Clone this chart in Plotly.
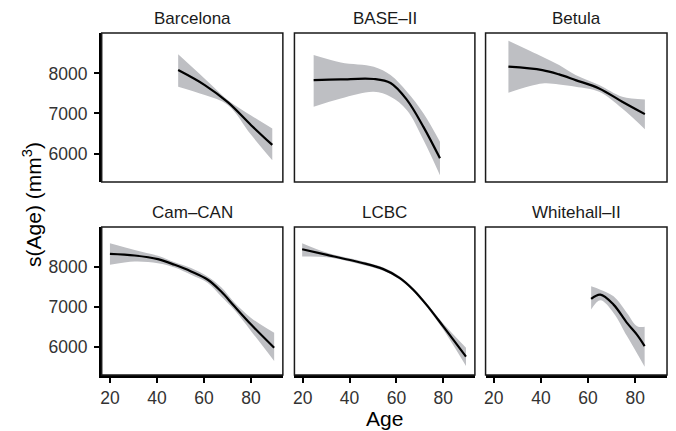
import plotly.graph_objects as go

# ---- data ----
cohorts = ["Barcelona", "BASE–II", "Betula", "Cam–CAN", "LCBC", "Whitehall–II"]

barcelona_age = [49, 60.3, 70.2, 80, 89]
barcelona_fit = [8083, 7708, 7275, 6708, 6215]
barcelona_hi = [8475, 7867, 7333, 6950, 6625]
barcelona_lo = [7667, 7458, 7208, 6467, 5833]

base_age = [24.7, 36.3, 50.4, 57.5, 64.5, 71.6, 78.6]
base_fit = [7830, 7850, 7860, 7760, 7340, 6660, 5880]
base_hi = [8458, 8275, 8167, 7958, 7542, 7000, 6292]
base_lo = [7167, 7375, 7542, 7417, 7083, 6333, 5458]

betula_age = [26.2, 40.6, 47.7, 54.7, 64.7, 74.5, 84.1]
betula_fit = [8167, 8083, 7975, 7833, 7625, 7292, 6983]
betula_hi = [8817, 8417, 8208, 7958, 7708, 7417, 7350]
betula_lo = [7517, 7750, 7725, 7667, 7542, 7125, 6608]

camcan_age = [20, 30.5, 40.4, 47.5, 54.5, 61.6, 67.2, 72.9, 80, 89.8]
camcan_fit = [8333, 8292, 8200, 8058, 7892, 7683, 7392, 7017, 6558, 5975]
camcan_hi = [8600, 8433, 8283, 8120, 7975, 7760, 7500, 7110, 6725, 6350]
camcan_lo = [8058, 8142, 8100, 7990, 7808, 7600, 7267, 6920, 6392, 5642]

lcbc_age = [19.8, 30.4, 44.6, 54.4, 61.5, 67.2, 72.8, 79.9, 89.7]
lcbc_fit = [8450, 8308, 8117, 7950, 7725, 7433, 7058, 6517, 5750]
lcbc_hi = [8600, 8360, 8160, 7990, 7765, 7475, 7105, 6590, 5975]
lcbc_lo = [8267, 8250, 8075, 7910, 7685, 7390, 7010, 6440, 5517]

whitehall_age = [61.3, 65.2, 70.8, 76.5, 80.8, 84]
whitehall_fit = [7200, 7308, 7058, 6600, 6300, 6017]
whitehall_hi = [7517, 7433, 7267, 6850, 6517, 6500]
whitehall_lo = [6933, 7167, 6850, 6267, 5833, 5500]

x_ticks = [20, 40, 60, 80]
y_ticks = [6000, 7000, 8000]

series = [
    (barcelona_age, barcelona_fit, barcelona_hi, barcelona_lo),
    (base_age, base_fit, base_hi, base_lo),
    (betula_age, betula_fit, betula_hi, betula_lo),
    (camcan_age, camcan_fit, camcan_hi, camcan_lo),
    (lcbc_age, lcbc_fit, lcbc_hi, lcbc_lo),
    (whitehall_age, whitehall_fit, whitehall_hi, whitehall_lo),
]

# ---- layout geometry ----
W, H = 676, 431
col_px = [(100, 281.7), (293.3, 474.3), (485, 667)]
row_px = [(33, 182), (227, 375)]
x_range = [16.5, 93.5]
y_range = [5290, 9008]

FONT = "Liberation Sans, Arial, Helvetica, sans-serif"
ribbon_col = "rgb(190,191,195)"
SM = 1.0

fig = go.Figure()
layout = dict(
    width=W, height=H, margin=dict(l=0, r=0, t=0, b=0),
    paper_bgcolor="white", plot_bgcolor="white", showlegend=False,
    font=dict(family=FONT, color="#1a1a1a"),
)
shapes = []
annotations = []

for i, (name, (age, fit, hi, lo)) in enumerate(zip(cohorts, series)):
    r, c = divmod(i, 3)
    n = i + 1
    xa = "x" if n == 1 else f"x{n}"
    ya = "y" if n == 1 else f"y{n}"
    xkey = "xaxis" if n == 1 else f"xaxis{n}"
    ykey = "yaxis" if n == 1 else f"yaxis{n}"
    x0, x1 = col_px[c]
    y0, y1 = row_px[r]
    xdom = [x0 / W, x1 / W]
    ydom = [1 - y1 / H, 1 - y0 / H]

    fig.add_trace(go.Scatter(
        x=age, y=lo, mode="lines",
        line=dict(width=0, color=ribbon_col, shape="spline", smoothing=SM),
        hoverinfo="skip", xaxis=xa, yaxis=ya))
    fig.add_trace(go.Scatter(
        x=age, y=hi, mode="lines", fill="tonexty", fillcolor=ribbon_col,
        line=dict(width=0, color=ribbon_col, shape="spline", smoothing=SM),
        hoverinfo="skip", xaxis=xa, yaxis=ya))
    fig.add_trace(go.Scatter(
        x=age, y=fit, mode="lines",
        line=dict(color="black", width=2.2, shape="spline", smoothing=SM),
        xaxis=xa, yaxis=ya))

    bottom = r == 1
    left = c == 0
    layout[xkey] = dict(
        domain=xdom, range=x_range, anchor=ya, showgrid=False, zeroline=False,
        showline=bottom, linecolor="black", linewidth=2.5,
        ticks="outside" if bottom else "", ticklen=5, tickwidth=1.5, tickcolor="black",
        tickvals=x_ticks, showticklabels=bottom,
        tickfont=dict(size=17.5, color="#333333", family=FONT),
    )
    layout[ykey] = dict(
        domain=ydom, range=y_range, anchor=xa, showgrid=False, zeroline=False,
        showline=left, linecolor="black", linewidth=2.5,
        ticks="outside" if left else "", ticklen=5, tickwidth=1.5, tickcolor="black",
        tickvals=y_ticks, showticklabels=left, ticklabelstandoff=3,
        tickfont=dict(size=17.5, color="#333333", family=FONT),
    )
    shapes.append(dict(type="rect", xref=f"{xa} domain", yref=f"{ya} domain",
                       x0=0, x1=1, y0=0, y1=1, line=dict(color="#1a1a1a", width=1.5),
                       layer="above"))
    annotations.append(dict(
        text=name, x=(xdom[0] + xdom[1]) / 2, y=ydom[1], xref="paper", yref="paper",
        xanchor="center", yanchor="bottom", yshift=3, showarrow=False,
        font=dict(size=17, color="#1a1a1a", family=FONT)))

annotations.append(dict(
    text="Age", x=383.5 / W, y=1 - 418 / H, xref="paper", yref="paper",
    xanchor="center", yanchor="middle", showarrow=False,
    font=dict(size=21, color="black", family=FONT)))
annotations.append(dict(
    text="s(Age) (mm<sup>3</sup>)", x=30 / W, y=1 - 204 / H, xref="paper", yref="paper",
    xanchor="center", yanchor="middle", textangle=-90, showarrow=False,
    font=dict(size=21, color="black", family=FONT)))

layout["shapes"] = shapes
layout["annotations"] = annotations
fig.update_layout(**layout)
fig.write_html("out.html")
